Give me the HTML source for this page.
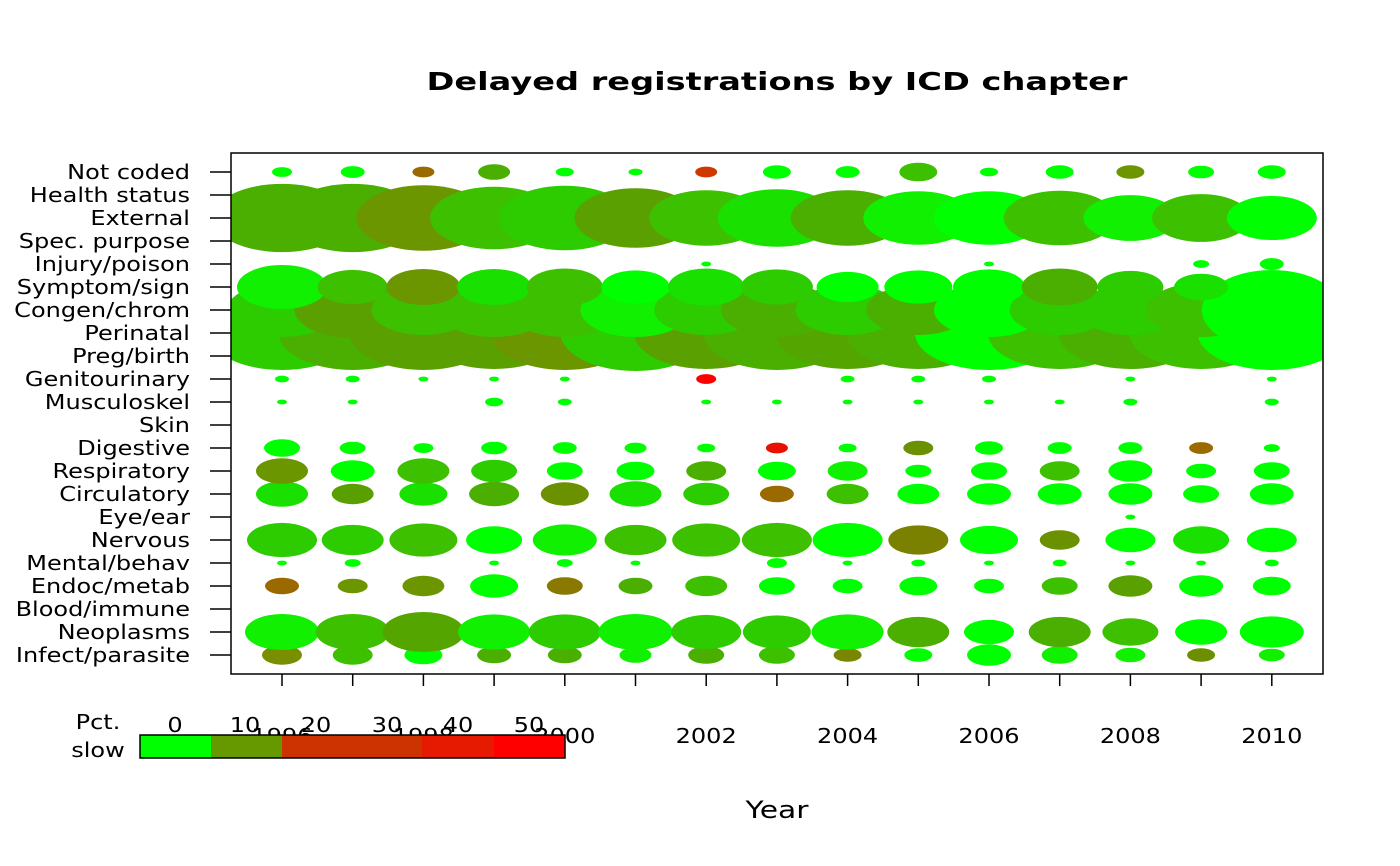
<!DOCTYPE html>
<html><head><meta charset="utf-8"><style>
html,body{margin:0;padding:0;background:#fff;}
svg{display:block;font-family:"DejaVu Sans","Liberation Sans",sans-serif;}
</style></head><body>
<svg id="s" width="1400" height="866" viewBox="0 0 1400 866" xmlns="http://www.w3.org/2000/svg">
<defs><clipPath id="c"><rect x="231" y="153" width="1092" height="521"/></clipPath></defs>
<text x="777" y="90" text-anchor="middle" font-size="25" font-weight="bold" textLength="701" lengthAdjust="spacingAndGlyphs">Delayed registrations by ICD chapter</text>
<g id="ells" clip-path="url(#c)"></g>
<rect x="231" y="153" width="1092" height="521" fill="none" stroke="#000" stroke-width="1.5"/>
<g id="axes" stroke="#000" stroke-width="1.5"></g>
<g id="labs" font-size="20" text-anchor="end"></g>
<g id="xl" font-size="20" text-anchor="middle"></g>
<text x="777" y="818" text-anchor="middle" font-size="24" textLength="63" lengthAdjust="spacingAndGlyphs">Year</text>
<text class="w" x="98" y="729" text-anchor="middle" font-size="20">Pct.</text>
<text class="w" x="98" y="757" text-anchor="middle" font-size="20">slow</text>
<rect x="140" y="735" width="71" height="23" fill="#00ff00"/>
<rect x="211" y="735" width="71" height="23" fill="#669900"/>
<rect x="282" y="735" width="140" height="23" fill="#cc3300"/>
<rect x="422" y="735" width="72" height="23" fill="#e61a00"/>
<rect x="494" y="735" width="71" height="23" fill="#ff0000"/>
<rect x="140" y="735" width="425" height="23" fill="none" stroke="#000" stroke-width="1.5"/>
<g font-size="20" text-anchor="middle">
<text class="w" x="175" y="732">0</text><text class="w" x="245" y="732">10</text><text class="w" x="316" y="732">20</text>
<text class="w" x="387" y="732">30</text><text class="w" x="458" y="732">40</text><text class="w" x="529" y="732">50</text>
</g>
</svg>
<script>
var NS="http://www.w3.org/2000/svg";
function el(p,t,a,txt){var e=document.createElementNS(NS,t);for(var k in a)e.setAttribute(k,a[k]);if(txt)e.textContent=txt;p.appendChild(e);return e;}
var X=function(i){return 282+70.7*i;};
var Y=function(r){return 655-23*r;};
var names=["Infect/parasite","Neoplasms","Blood/immune","Endoc/metab","Mental/behav","Nervous","Eye/ear","Circulatory","Respiratory","Digestive","Skin","Musculoskel","Genitourinary","Preg/birth","Perinatal","Congen/chrom","Symptom/sign","Injury/poison","Spec. purpose","External","Health status","Not coded"];
var labs=document.getElementById("labs"),ax=document.getElementById("axes"),xl=document.getElementById("xl");
names.forEach(function(n,r){el(labs,"text",{x:190,y:Y(r)+7,"class":"w"},n);el(ax,"line",{x1:210,x2:231,y1:Y(r),y2:Y(r)});});
for(var i=0;i<15;i++){el(ax,"line",{x1:X(i),x2:X(i),y1:674,y2:686});if(i%2==0)el(xl,"text",{x:X(i),y:743,"class":"w"},String(1996+i));}
var G="#00ff00",g1="#10f000",g2="#1ae000",g3="#2ccc00",g4="#3cc000",g5="#4aaf00",g6="#5aa000",ol="#6b9600",br="#9a6a00";
var rows=[
[0,null,[20,20,19,17,17,16,18,18,14,14,22,18,15,14,13],["#7a8f00",g4,G,g5,g5,g1,g5,g4,"#7a8500",G,G,g1,g1,"#6b8f00",g1]],
[1,null,[37,37,41,36,36,37,35,34,36,31,25,31,28,26,32],[g1,g4,"#55a500",g1,g3,g1,g3,g3,g1,g5,G,g5,g4,G,G]],
[3,null,[17,15,21,24,18,17,21,18,15,19,15,18,22,22,19],[br,ol,ol,G,"#8a7800",g5,g4,G,G,G,G,g4,g6,G,G]],
[4,null,[5,8,0,5,8,5,0,10,5,7,5,7,5,5,7],[G,G,G,G,G,G,G,G,G,G,G,G,G,G,G]],
[5,null,[35,31,34,28,32,31,34,35,35,30,29,20,25,28,25],[g3,g3,g4,G,g1,g4,g4,g4,G,"#7a8000",G,"#6b9000",G,g2,G]],
[6,null,[0,0,0,0,0,0,0,0,0,0,0,0,5,0,0],[G,G,G,G,G,G,G,G,G,G,G,G,G,G,G]],
[7,null,[26,21,24,25,24,26,23,17,21,21,22,22,22,18,22],[g2,"#5a9f00",g2,g5,"#6b9000",g2,g3,br,g4,G,G,G,G,G,G]],
[8,null,[26,22,26,23,18,19,20,19,20,13,18,20,22,15,18],[ol,G,g4,g3,G,G,g5,G,g1,G,G,g4,G,G,G]],
[9,null,[18,13,10,13,12,11,9,11,9,15,14,12,12,12,8],[G,G,G,G,G,G,G,"#e81000",G,"#6b9000",G,G,G,br,G]],
[11,null,[5,5,0,9,7,0,5,5,5,5,5,5,7,0,7],[G,G,G,G,G,G,G,G,G,G,G,G,G,G,G]],
[12,null,[7,7,5,5,5,0,10,0,7,7,7,0,5,0,5],[G,G,G,G,G,G,"#ff0000",G,G,G,G,G,G,G,G]],
[13,333,[74,74,74,72,74,75,72,74,72,72,74,72,72,72,74],[g3,g5,g6,g6,ol,g3,g6,g5,"#55a500",g5,G,g4,g5,g4,G],[37,37,37,36,37,38,36,37,36,36,37,36,36,36,37]],
[15,310,[55,58,52,56,55,55,52,56,52,52,55,50,52,55,70],[g3,g6,g4,g4,g4,g1,g3,g5,g3,g5,G,g3,g3,g4,G],[27,28,25,27,27,27,25,27,25,25,27,25,25,27,40]],
[16,287,[45,35,37,37,38,34,38,36,31,34,36,38,33,27,17],[g1,g4,ol,g2,g4,G,g2,g3,G,G,G,g5,g3,g2,G]],
[17,null,[0,0,0,0,0,0,5,0,0,0,5,0,0,8,12],[G,G,G,G,G,G,G,G,G,G,G,G,G,G,G]],
[19,218,[70,70,67,64,66,61,57,59,57,55,55,56,47,49,45],[g5,g5,ol,g4,g3,"#5aa000",g4,g2,g5,g1,G,g4,g1,g4,G]],
[21,null,[10,12,11,16,9,7,11,14,12,19,9,14,14,13,14],[G,G,br,g5,G,G,"#d03800",G,G,g4,G,G,ol,G,G]]
];
var E=document.getElementById("ells");
rows.forEach(function(R){
  var cy=R[1]==null?Y(R[0]):R[1];
  for(var i=0;i<15;i++){var rx=R[2][i];if(!rx)continue;
    var ry=R[4]?R[4][i]:rx/2.05;
    el(E,"ellipse",{cx:X(i).toFixed(1),cy:cy,rx:rx,ry:ry.toFixed(1),fill:R[3][i]});}
});
var ws=document.querySelectorAll("text.w");
for(var k=0;k<ws.length;k++){var t=ws[k];try{var L=t.getComputedTextLength();if(L>0){t.setAttribute("textLength",(L*1.2).toFixed(1));t.setAttribute("lengthAdjust","spacingAndGlyphs");}}catch(e){}}
</script>
</body></html>
